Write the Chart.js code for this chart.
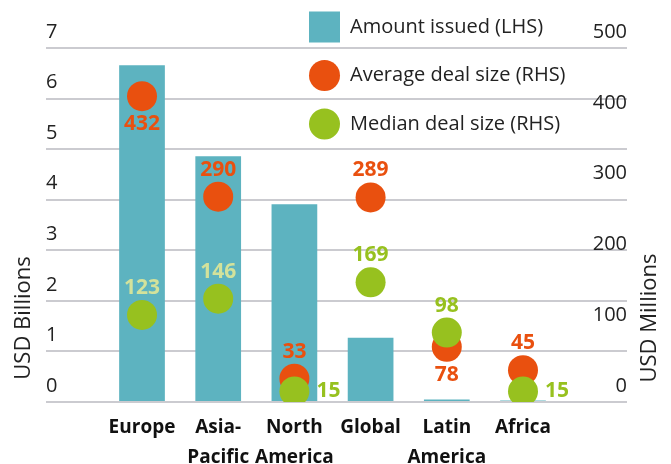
<!DOCTYPE html>
<html>
<head>
<meta charset="utf-8">
<script src="https://cdn.jsdelivr.net/npm/chart.js@4"></script>
<style>
  html, body { margin: 0; padding: 0; background: #fff; }
  #wrap { width: 671px; height: 464px; position: relative; }
</style>
</head>
<body>
<div id="wrap"><canvas id="regionChart"></canvas></div>
<script>
// categories (multi-line labels) and series
const regions = [['Europe'], ['Asia-', 'Pacific'], ['North', 'America'], ['Global'], ['Latin', 'America'], ['Africa']];
const amountIssued = [6.66, 4.86, 3.91, 1.27, 0.05, 0.03];   // USD billions (LHS)
const averageDeal = [432, 290, 33, 289, 78, 45];             // USD millions (RHS)
const medianDeal = [123, 146, 15, 169, 98, 15];              // USD millions (RHS)
const leftMax = 7;
const rightMax = 500;

// where each value label sits relative to its dot
const averageLabelPos = ['below', 'above', 'above', 'above', 'below', 'above'];
const medianLabelPos = ['above', 'above', 'right', 'above', 'above', 'right'];

const TEAL = '#5db3c0';
const ORANGE = '#e9500f';
const GREEN = '#97c11f';
const PALE_GREEN = '#d3e29b';
const FONT = '"Open Sans", "Noto Sans", sans-serif';

const medianLabelColors = [PALE_GREEN, PALE_GREEN, GREEN, GREEN, GREEN, GREEN];
const averageLabelColors = averageDeal.map(() => ORANGE);

const toPoints = arr => arr.map((v, i) => ({ x: i, y: v }));

// number labels next to the dots
const valueLabels = {
    id: 'valueLabels',
    afterDatasetsDraw(chart) {
        const ctx = chart.ctx;
        ctx.save();
        ctx.font = 'bold 21px ' + FONT;
        ctx.textAlign = 'center';
        ctx.textBaseline = 'middle';
        [[1, averageDeal, averageLabelPos, averageLabelColors],
         [2, medianDeal, medianLabelPos, medianLabelColors]].forEach(([idx, values, pos, colors]) => {
            chart.getDatasetMeta(idx).data.forEach((pt, i) => {
                let x = pt.x, y = pt.y;
                if (pos[i] === 'above') y -= 27;
                else if (pos[i] === 'below') y += 28;
                else x += 34;
                ctx.fillStyle = colors[i];
                ctx.fillText(String(values[i]), x, y);
            });
        });
        ctx.restore();
    }
};

// axis titles, both read bottom to top
const axisTitles = {
    id: 'axisTitles',
    afterDraw(chart) {
        const ctx = chart.ctx;
        const mid = 318;
        ctx.save();
        ctx.font = '22px ' + FONT;
        ctx.fillStyle = '#222';
        ctx.textAlign = 'center';
        ctx.textBaseline = 'middle';
        [['USD Billions', 24], ['USD Millions', 650]].forEach(([t, x]) => {
            ctx.save();
            ctx.translate(x, mid);
            ctx.rotate(-Math.PI / 2);
            ctx.fillText(t, 0, 0);
            ctx.restore();
        });
        ctx.restore();
    }
};

// move the legend block to the upper right, over the plot
const legendPlacer = {
    id: 'legendPlacer',
    afterLayout(chart) {
        chart.legend.left = 291.5;
        chart.legend.top = -6;
    }
};

const ctx = document.getElementById('regionChart').getContext('2d');
new Chart(ctx, {
    data: {
        datasets: [{
            type: 'bar',
            label: 'Amount issued (LHS)',
            data: toPoints(amountIssued),
            backgroundColor: TEAL,
            yAxisID: 'y',
            barPercentage: 0.6,
            categoryPercentage: 1,
            order: 3
        }, {
            type: 'line',
            label: 'Average deal size (RHS)',
            data: toPoints(averageDeal),
            showLine: false,
            pointRadius: 15,
            pointHoverRadius: 15,
            pointBorderWidth: 0,
            pointBackgroundColor: ORANGE,
            backgroundColor: ORANGE,
            yAxisID: 'y1',
            order: 2
        }, {
            type: 'line',
            label: 'Median deal size (RHS)',
            data: toPoints(medianDeal),
            showLine: false,
            pointRadius: 15,
            pointHoverRadius: 15,
            pointBorderWidth: 0,
            pointBackgroundColor: GREEN,
            backgroundColor: GREEN,
            yAxisID: 'y1',
            order: 1
        }]
    },
    options: {
        responsive: true,
        maintainAspectRatio: false,
        animation: false,
        layout: {
            padding: { left: 46, right: 44, top: 48, bottom: 0 }
        },
        plugins: {
            tooltip: { enabled: false },
            legend: {
                position: 'chartArea',
                align: 'start',
                labels: {
                    boxWidth: 31,
                    boxHeight: 31,
                    padding: 17.5,
                    color: '#222',
                    font: { family: FONT, size: 20 },
                    generateLabels: chart => chart.data.datasets.map((ds, i) => ({
                        text: ds.label,
                        fillStyle: ds.backgroundColor,
                        strokeStyle: ds.backgroundColor,
                        lineWidth: 0,
                        borderRadius: ds.type === 'line' ? 15.5 : 0,
                        hidden: false,
                        datasetIndex: i,
                        fontColor: '#222'
                    }))
                }
            }
        },
        scales: {
            x: {
                type: 'linear',
                offset: false,
                min: -1.26,
                max: 6.365,
                grid: { display: false, drawTicks: false },
                border: { display: false },
                afterBuildTicks: s => {
                    s.ticks = s.ticks.filter(t => t.value >= 0 && t.value < regions.length && Number.isInteger(t.value));
                },
                afterFit: s => { s.height = 62; },
                ticks: {
                    stepSize: 1,
                    includeBounds: false,
                    autoSkip: false,
                    maxRotation: 0,
                    padding: 11,
                    color: '#111',
                    font: { family: FONT, size: 19, weight: 'bold', lineHeight: 1.55 },
                    callback: v => regions[v]
                }
            },
            y: {
                position: 'left',
                min: 0,
                max: leftMax,
                grid: { color: '#cbcbd0', lineWidth: 2, drawTicks: false },
                border: { display: false },
                ticks: {
                    stepSize: 1,
                    mirror: true,
                    padding: 0,
                    labelOffset: -16,
                    color: '#222',
                    font: { family: FONT, size: 20 }
                }
            },
            y1: {
                position: 'right',
                min: 0,
                max: rightMax,
                grid: { display: false, drawTicks: false },
                border: { display: false },
                ticks: {
                    stepSize: 100,
                    mirror: true,
                    padding: 0,
                    labelOffset: -16,
                    color: '#222',
                    font: { family: FONT, size: 20 }
                }
            }
        }
    },
    plugins: [valueLabels, axisTitles, legendPlacer]
});
</script>
</body>
</html>
